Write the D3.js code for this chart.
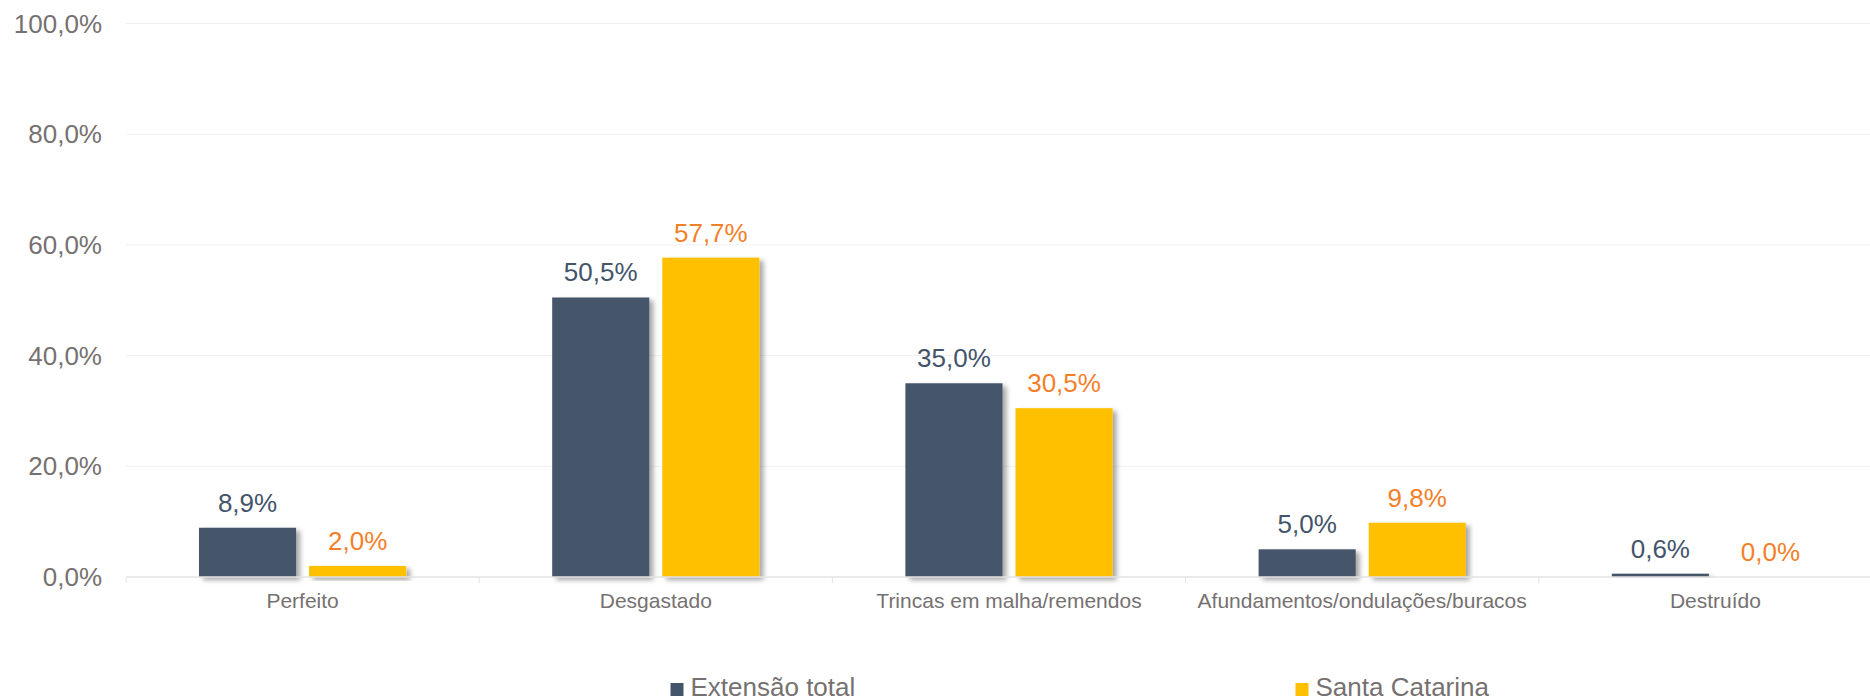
<!DOCTYPE html>
<meta charset="utf-8">
<style>
    body { margin: 0; background: #fff; }
    svg { display: block; font-family: Arial, "Liberation Sans", sans-serif; }
    .grid line { stroke: #f0f0f0; stroke-width: 1; }
</style>
<svg width="1870" height="699"></svg>
<script src="https://cdn.jsdelivr.net/npm/d3@7"></script>
<script>
    // data
    var categories = ["Perfeito", "Desgastado", "Trincas em malha/remendos", "Afundamentos/ondulações/buracos", "Destruído"]
    var series = ["Extensão total", "Santa Catarina"]
    var extensaoTotal = [8.9, 50.5, 35.0, 5.0, 0.6]
    var santaCatarina = [2.0, 57.7, 30.5, 9.8, 0.0]
    var yTicks = [0, 20, 40, 60, 80, 100]

    var barColors = ["#44546A", "#FFC000"]
    var labelColors = ["#44546A", "#F47F2A"]

    var svg = d3.select("svg"),
        width = +svg.attr("width"),
        height = +svg.attr("height")

    var pt = d3.formatLocale({ decimal: ",", thousands: ".", grouping: [3], currency: ["R$", ""] })
    var fmt = pt.format(".1f")

    var left = 126, right = 1892
    var y = d3.scaleLinear().domain([0, 100]).range([577, 23.5])
    var x0 = d3.scaleBand().domain(categories).range([left, right])
    var x1 = d3.scaleBand().domain(series).range([73, x0.bandwidth() - 73]).paddingInner(0.118)

    var defs = svg.append("defs")
    defs.append("filter").attr("id", "shadow")
        .attr("x", "-20%").attr("y", "-20%").attr("width", "150%").attr("height", "150%")
        .append("feDropShadow")
        .attr("dx", 4).attr("dy", 3).attr("stdDeviation", 2.5)
        .attr("flood-color", "#000").attr("flood-opacity", 0.35)

    // gridlines
    svg.append("g").attr("class", "grid")
        .selectAll("line").data(yTicks.filter(d => d > 0)).enter().append("line")
        .attr("x1", left).attr("x2", right)
        .attr("y1", d => y(d)).attr("y2", d => y(d))

    // y labels
    svg.append("g").selectAll("text").data(yTicks).enter().append("text")
        .attr("x", 102).attr("y", d => y(d)).attr("dy", "0.35em")
        .attr("text-anchor", "end")
        .attr("font-size", 26).attr("fill", "#767171")
        .text(d => fmt(d) + "%")

    var rows = categories.map((c, i) => ({ cat: c, vals: [extensaoTotal[i], santaCatarina[i]] }))

    var groups = svg.append("g").selectAll("g").data(rows).enter().append("g")
        .attr("transform", d => "translate(" + x0(d.cat) + ",0)")

    groups.selectAll("rect").data(d => d.vals.map((v, j) => ({ s: series[j], v: v, j: j })))
        .enter().append("rect")
        .attr("x", d => x1(d.s))
        .attr("width", x1.bandwidth())
        .attr("y", d => y(d.v))
        .attr("height", d => y(0) - y(d.v))
        .attr("fill", d => barColors[d.j])
        .attr("filter", "url(#shadow)")

    // axis line + ticks
    svg.append("line")
        .attr("x1", left).attr("x2", right)
        .attr("y1", y(0)).attr("y2", y(0))
        .attr("stroke", "#e3e3e3").attr("stroke-width", 1.5)
    svg.append("g").selectAll("line").data(categories.concat([null])).enter().append("line")
        .attr("x1", (d, i) => left + i * x0.step()).attr("x2", (d, i) => left + i * x0.step())
        .attr("y1", y(0)).attr("y2", y(0) + 6)
        .attr("stroke", "#e3e3e3")

    groups.selectAll("text.val").data(d => d.vals.map((v, j) => ({ s: series[j], v: v, j: j })))
        .enter().append("text").attr("class", "val")
        .attr("x", d => x1(d.s) + x1.bandwidth() / 2)
        .attr("y", d => y(d.v) - 16)
        .attr("text-anchor", "middle")
        .attr("font-size", 26)
        .attr("fill", d => labelColors[d.j])
        .text(d => fmt(d.v) + "%")

    // category labels
    svg.append("g").selectAll("text").data(categories).enter().append("text")
        .attr("x", d => x0(d) + x0.bandwidth() / 2)
        .attr("y", 608)
        .attr("text-anchor", "middle")
        .attr("font-size", 21).attr("fill", "#767171")
        .text(d => d)

    // legend
    var legendX = [670.5, 1295.5]
    var legend = svg.append("g").selectAll("g").data(series).enter().append("g")
        .attr("transform", (d, i) => "translate(" + legendX[i] + ",0)")
    legend.append("rect")
        .attr("x", 0).attr("y", 683).attr("width", 13).attr("height", 13)
        .attr("fill", (d, i) => barColors[i])
    legend.append("text")
        .attr("x", 20).attr("y", 696)
        .attr("font-size", 26).attr("fill", "#767171")
        .text(d => d)
</script>
